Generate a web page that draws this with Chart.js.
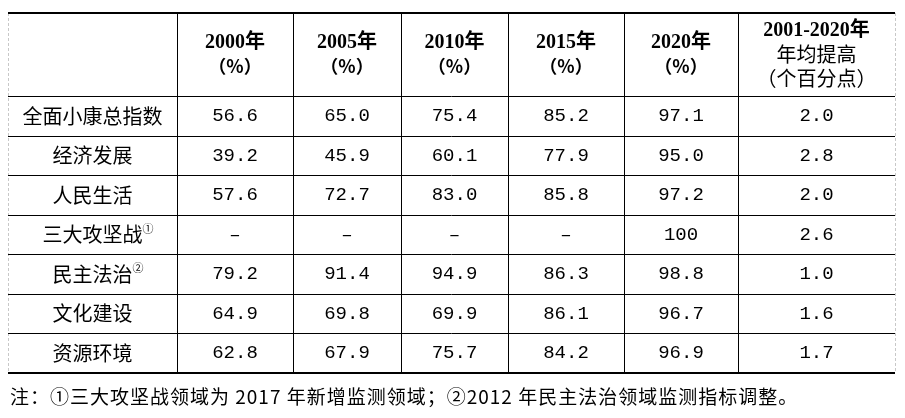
<!DOCTYPE html>
<html><head><meta charset="utf-8">
<script src="https://cdn.jsdelivr.net/npm/chart.js@4/dist/chart.umd.min.js"></script>
<style>body{margin:0;background:#fff}canvas{display:block}</style>
</head><body>
<canvas id="tbl" width="905" height="418"></canvas>
<script>
// data
var headers = [["", ""], ["2000年", "（%）"], ["2005年", "（%）"], ["2010年", "（%）"], ["2015年", "（%）"], ["2020年", "（%）"], ["2001-2020年", "年均提高", "（个百分点）"]]
var categories = ["全面小康总指数", "经济发展", "人民生活", "三大攻坚战", "民主法治", "文化建设", "资源环境"]
var marks = ["", "", "", "①", "②", "", ""]
var y2000 = ["56.6", "39.2", "57.6", "–", "79.2", "64.9", "62.8"]
var y2005 = ["65.0", "45.9", "72.7", "–", "91.4", "69.8", "67.9"]
var y2010 = ["75.4", "60.1", "83.0", "–", "94.9", "69.9", "75.7"]
var y2015 = ["85.2", "77.9", "85.8", "–", "86.3", "86.1", "84.2"]
var y2020 = ["97.1", "95.0", "97.2", "100", "98.8", "96.7", "96.9"]
var avgRise = ["2.0", "2.8", "2.0", "2.6", "1.0", "1.6", "1.7"]
var note = "注：①三大攻坚战领域为 2017 年新增监测领域；②2012 年民主法治领域监测指标调整。"

// layout (table grid in scale units)
var colEdges = [8, 177, 293, 401, 508, 624, 738, 895]
var rowEdges = [13, 96, 136, 175, 215, 254, 294, 333, 373]
var columns = [categories, y2000, y2005, y2010, y2015, y2020, avgRise]

var points = []
columns.forEach(function (col, c) {
    col.forEach(function (v, r) {
        points.push({x: (colEdges[c] + colEdges[c + 1]) / 2, y: (rowEdges[r + 1] + rowEdges[r + 2]) / 2, c: c, r: r})
    })
})

var tablePlugin = {
    id: 'table',
    afterDatasetsDraw: function (chart) {
        var ctx = chart.ctx, xs = chart.scales.x, ys = chart.scales.y
        var X = function (v) { return xs.getPixelForValue(v) }
        var Y = function (v) { return ys.getPixelForValue(v) }
        var top = Y(rowEdges[0]), bot = Y(rowEdges[rowEdges.length - 1])
        ctx.save()
        // side borders dashed grey
        ctx.strokeStyle = '#c8c8c8'; ctx.lineWidth = 1; ctx.setLineDash([3, 2])
        ;[colEdges[0], colEdges[colEdges.length - 1]].forEach(function (e) {
            ctx.beginPath(); ctx.moveTo(X(e) + 0.5, top); ctx.lineTo(X(e) + 0.5, bot); ctx.stroke()
        })
        ctx.setLineDash([])
        ctx.strokeStyle = '#000'
        for (var i = 1; i < colEdges.length - 1; i++) {
            ctx.beginPath(); ctx.moveTo(X(colEdges[i]) + 0.5, top); ctx.lineTo(X(colEdges[i]) + 0.5, bot); ctx.stroke()
        }
        for (var j = 1; j < rowEdges.length - 1; j++) {
            ctx.beginPath(); ctx.moveTo(X(colEdges[0]), Y(rowEdges[j]) + 0.5); ctx.lineTo(X(colEdges[7]), Y(rowEdges[j]) + 0.5); ctx.stroke()
        }
        ctx.lineWidth = 2
        ;[rowEdges[0], rowEdges[rowEdges.length - 1]].forEach(function (e) {
            ctx.beginPath(); ctx.moveTo(X(colEdges[0]), Y(e)); ctx.lineTo(X(colEdges[7]), Y(e)); ctx.stroke()
        })
        // header
        ctx.fillStyle = '#000'; ctx.textAlign = 'center'; ctx.textBaseline = 'middle'
        headers.forEach(function (h, c) {
            var cx = X((colEdges[c] + colEdges[c + 1]) / 2)
            var cy = Y((rowEdges[0] + rowEdges[1]) / 2)
            var n = h.length, lh = 24
            h.forEach(function (t, k) {
                ctx.font = (k == 0 ? 'bold 20px "Liberation Serif", "Noto Sans CJK SC"' : 'bold 18px "Noto Sans CJK SC"')
                if (k > 0 && c == 6) ctx.font = '20px "Noto Sans CJK SC"'
                ctx.fillText(t, cx, cy + (k - (n - 1) / 2) * lh)
            })
        })
        // cells
        points.forEach(function (p) {
            var t = columns[p.c][p.r]
            var cx = X(p.x), cy = Y(p.y)
            if (p.c == 0) {
                ctx.font = '20px "Noto Sans CJK SC"'
                ctx.fillText(t, cx, cy)
                if (marks[p.r]) {
                    var w = ctx.measureText(t).width
                    ctx.font = '11px "Noto Sans CJK SC"'
                    ctx.textAlign = 'left'
                    ctx.fillText(marks[p.r], cx + w / 2, cy - 6)
                    ctx.textAlign = 'center'
                }
            } else {
                ctx.font = '19px "Liberation Mono", "Noto Sans CJK SC"'
                ctx.fillText(t, cx, cy)
            }
        })
        ctx.textAlign = 'left'
        ctx.font = '19px "Noto Sans CJK SC"'
        ctx.letterSpacing = '1px'
        ctx.fillText(note, X(10), Y(397))
        ctx.restore()
    }
}

new Chart(document.getElementById("tbl"), {
    type: 'scatter',
    data: {datasets: [{data: points, pointRadius: 0, pointHoverRadius: 0}]},
    options: {
        responsive: false,
        animation: false,
        events: [],
        layout: {padding: 0},
        plugins: {legend: {display: false}, tooltip: {enabled: false}},
        scales: {
            x: {type: 'linear', min: 0, max: 905, display: false},
            y: {type: 'linear', min: 0, max: 418, reverse: true, display: false}
        }
    },
    plugins: [tablePlugin]
});
</script>
</body></html>
